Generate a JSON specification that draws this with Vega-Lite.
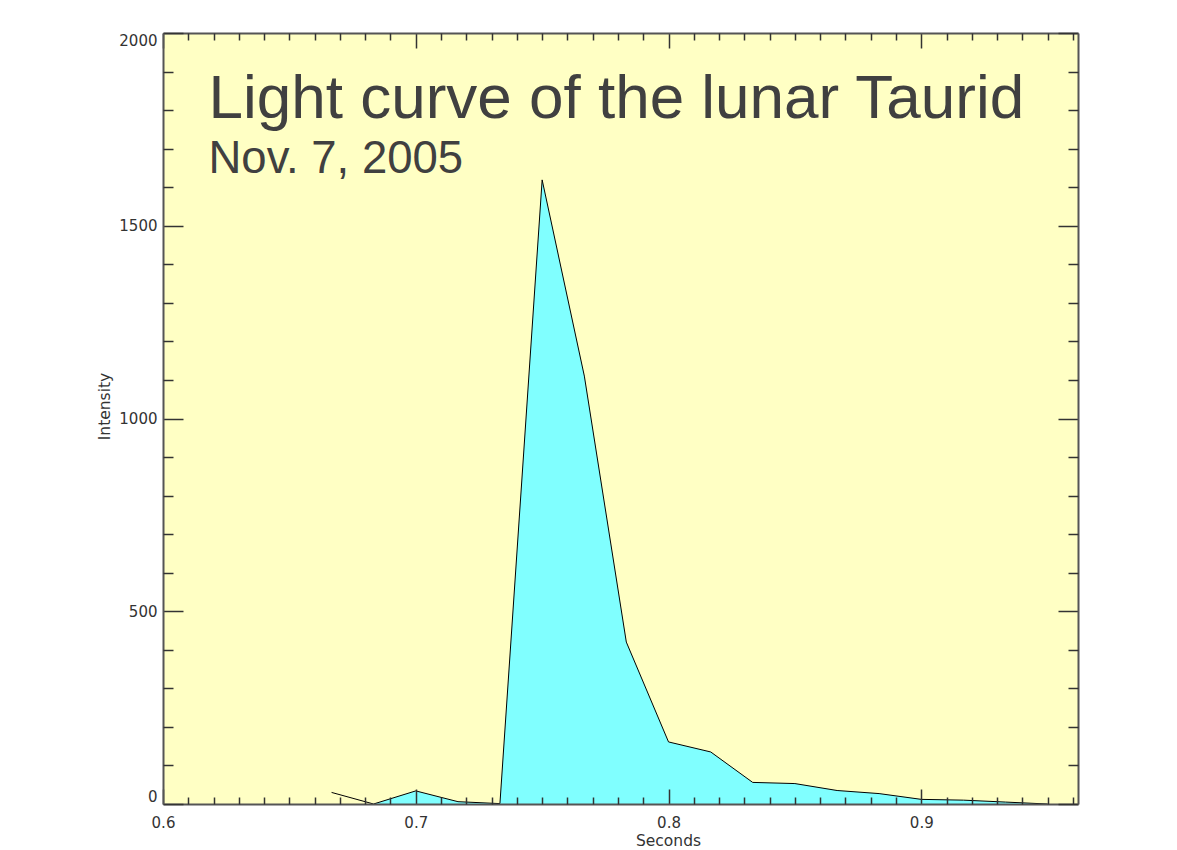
{
  "$schema": "https://vega.github.io/schema/vega-lite/v6.json",
  "width": 915,
  "height": 771,
  "autosize": {"type": "none"},
  "padding": {"left": 163, "top": 33, "right": 99, "bottom": 46},
  "background": "white",
  "config": {
    "view": {"fill": "#FFFFC4", "stroke": null},
    "axis": {
      "grid": false,
      "domain": false,
      "labelFont": "DejaVu Sans",
      "labelFontSize": 15,
      "labelColor": "#333333",
      "labelFlush": false,
      "tickColor": "#333333",
      "tickWidth": 1.5,
      "domainColor": "#555555",
      "domainWidth": 2,
      "titleFont": "DejaVu Sans",
      "titleFontSize": 15.5,
      "titleFontWeight": "normal",
      "titleColor": "#333333"
    }
  },
  "data": {
    "values": [
      {"t": 0.6667, "v": 30},
      {"t": 0.6833, "v": 0},
      {"t": 0.7, "v": 34},
      {"t": 0.7167, "v": 6},
      {"t": 0.7333, "v": 1},
      {"t": 0.75, "v": 1619},
      {"t": 0.7667, "v": 1110},
      {"t": 0.7833, "v": 420},
      {"t": 0.8, "v": 161},
      {"t": 0.8167, "v": 135},
      {"t": 0.8333, "v": 56},
      {"t": 0.85, "v": 53},
      {"t": 0.8667, "v": 35},
      {"t": 0.8833, "v": 27},
      {"t": 0.9, "v": 12},
      {"t": 0.9167, "v": 10},
      {"t": 0.9333, "v": 5},
      {"t": 0.95, "v": 0}
    ]
  },
  "layer": [
    {
      "transform": [{"filter": "datum.t >= 0.68"}],
      "mark": {"type": "area", "color": "#80FFFF", "opacity": 1},
      "encoding": {
        "x": {"field": "t", "type": "quantitative",
          "scale": {"domain": [0.6, 0.962], "nice": false, "zero": false},
          "axis": {"orient": "bottom", "title": "Seconds", "values": [0.6, 0.7, 0.8, 0.9], "format": ".1f", "ticks": false, "labelPadding": 11, "titlePadding": 3, "titleX": 505}},
        "y": {"field": "v", "type": "quantitative",
          "scale": {"domain": [0, 2000], "nice": false},
          "axis": {"orient": "left", "title": "Intensity", "values": [0, 500, 1000, 1500, 2000], "format": "d", "ticks": false, "labelPadding": 6, "labelFlush": true, "titlePadding": 6, "titleY": 373}}
      }
    },
    {
      "mark": {"type": "line", "color": "#000000", "strokeWidth": 1},
      "encoding": {
        "x": {"field": "t", "type": "quantitative",
          "axis": {"orient": "bottom", "title": null, "labels": false, "values": [0.6, 0.7, 0.8, 0.9], "tickSize": -15, "domain": true, "zindex": 1}},
        "y": {"field": "v", "type": "quantitative",
          "axis": {"orient": "left", "title": null, "labels": false, "values": [0, 500, 1000, 1500, 2000], "tickSize": -20, "domain": true, "zindex": 1}}
      }
    },
    {
      "mark": {"type": "line", "opacity": 0},
      "encoding": {
        "x": {"field": "t", "type": "quantitative",
          "axis": {"orient": "top", "title": null, "labels": false, "values": [0.6, 0.7, 0.8, 0.9], "tickSize": -15, "domain": true, "zindex": 1}},
        "y": {"field": "v", "type": "quantitative",
          "axis": {"orient": "right", "title": null, "labels": false, "values": [0, 500, 1000, 1500, 2000], "tickSize": -20, "domain": true, "zindex": 1}}
      }
    },
    {
      "mark": {"type": "line", "opacity": 0},
      "encoding": {
        "x": {"field": "t", "type": "quantitative",
          "axis": {"orient": "bottom", "title": null, "labels": false, "values": [0.61,0.62,0.63,0.64,0.65,0.66,0.67,0.68,0.69,0.71,0.72,0.73,0.74,0.75,0.76,0.77,0.78,0.79,0.81,0.82,0.83,0.84,0.85,0.86,0.87,0.88,0.89,0.91,0.92,0.93,0.94,0.95,0.96], "tickSize": -7, "zindex": 1}},
        "y": {"field": "v", "type": "quantitative",
          "axis": {"orient": "left", "title": null, "labels": false, "values": [100,200,300,400,600,700,800,900,1100,1200,1300,1400,1600,1700,1800,1900], "tickSize": -10, "zindex": 1}}
      }
    },
    {
      "mark": {"type": "line", "opacity": 0},
      "encoding": {
        "x": {"field": "t", "type": "quantitative",
          "axis": {"orient": "top", "title": null, "labels": false, "values": [0.61,0.62,0.63,0.64,0.65,0.66,0.67,0.68,0.69,0.71,0.72,0.73,0.74,0.75,0.76,0.77,0.78,0.79,0.81,0.82,0.83,0.84,0.85,0.86,0.87,0.88,0.89,0.91,0.92,0.93,0.94,0.95,0.96], "tickSize": -7, "zindex": 1}},
        "y": {"field": "v", "type": "quantitative",
          "axis": {"orient": "right", "title": null, "labels": false, "values": [100,200,300,400,600,700,800,900,1100,1200,1300,1400,1600,1700,1800,1900], "tickSize": -10, "zindex": 1}}
      }
    },
    {
      "data": {"values": [{"label": "Light curve of the lunar Taurid"}]},
      "mark": {"type": "text", "font": "Liberation Sans", "fontSize": 62, "color": "#404040", "align": "left", "baseline": "alphabetic"},
      "encoding": {
        "x": {"datum": 0.618, "type": "quantitative", "axis": null},
        "y": {"datum": 1779, "type": "quantitative", "axis": null},
        "text": {"field": "label"}
      }
    },
    {
      "data": {"values": [{"label": "Nov. 7, 2005"}]},
      "mark": {"type": "text", "font": "Liberation Sans", "fontSize": 45.5, "color": "#404040", "align": "left", "baseline": "alphabetic"},
      "encoding": {
        "x": {"datum": 0.618, "type": "quantitative", "axis": null},
        "y": {"datum": 1637, "type": "quantitative", "axis": null},
        "text": {"field": "label"}
      }
    }
  ],
  "resolve": {"axis": {"x": "independent", "y": "independent"}}
}
